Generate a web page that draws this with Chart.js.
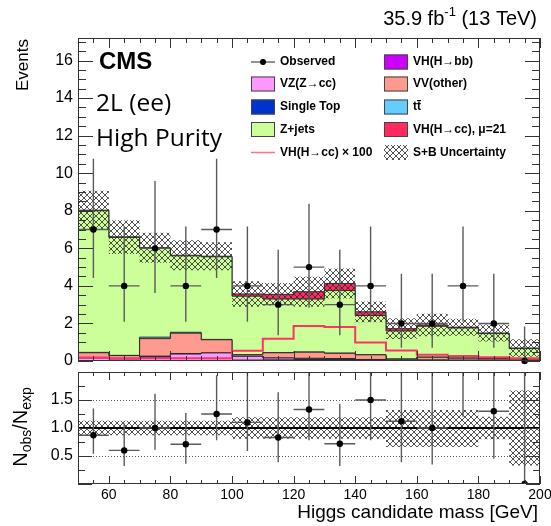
<!DOCTYPE html>
<html>
<head>
<meta charset="utf-8">
<script src="https://cdn.jsdelivr.net/npm/chart.js@4.4.0/dist/chart.umd.min.js"></script>
<style>
body { margin: 0; background: #fff; }
#wrap { position: relative; width: 551px; height: 526px; overflow: hidden; }
#main { position: absolute; left: 0; top: 0; }
#ratio { position: absolute; left: 0; top: 366px; }
</style>
</head>
<body>
<div id="wrap">
  <canvas id="main" width="551" height="366" style="width:551px;height:366px"></canvas>
  <canvas id="ratio" width="551" height="160" style="width:551px;height:160px"></canvas>
</div>
<script>
// bins of the Higgs candidate mass, GeV
var binEdges = [50,60,70,80,90,100,110,120,130,140,150,160,170,180,190,200];
var binCenters = [55,65,75,85,95,105,115,125,135,145,155,165,175,185,195];

// observed events and their error bars
var observed = [7,4,6,4,7,4,3,5,3,4,2,2,4,2,0];
var obsLow  = [4.42,2.09,3.62,2.09,4.42,2.09,1.37,2.84,1.37,2.09,0.71,0.71,2.09,0.71,0];
var obsHigh = [10.77,7.16,9.58,7.16,10.77,7.16,5.92,8.38,5.92,7.16,4.64,4.64,7.16,4.64,1.84];

// stacked backgrounds (bottom to top)
var vhbb      = [0.01,0.01,0.02,0.02,0.03,0.05,0.06,0.08,0.08,0.04,0.02,0.02,0.02,0.02,0.01];
var vzcc      = [0.15,0.10,0.18,0.35,0.40,0.20,0.10,0.06,0.05,0.04,0.02,0.03,0.02,0.02,0.01];
var singleTop = [0.00,0.00,0.06,0.03,0.00,0.00,0.00,0.00,0.00,0.00,0.00,0.00,0.00,0.00,0.00];
var vvOther   = [0.28,0.18,0.93,1.08,0.70,0.08,0.28,0.33,0.28,0.25,0.06,0.15,0.11,0.08,0.08];
var ttbar     = [0.02,0.01,0.08,0.05,0.02,0.01,0.01,0.01,0.01,0.01,0.01,0.01,0.01,0.01,0.01];
var zjets     = [7.54,6.28,4.73,4.07,4.40,3.11,2.85,2.82,3.33,2.08,1.49,1.64,1.60,1.33,0.55];
var vhcc      = [0.03,0.03,0.03,0.03,0.03,0.12,0.25,0.39,0.38,0.20,0.12,0.07,0.04,0.03,0.03];

// VH(H->cc) x 100 line
var vhccX100 = [0.18,0.15,0.15,0.15,0.15,0.55,1.18,1.87,1.81,0.98,0.56,0.33,0.26,0.20,0.15];

// S+B uncertainty band
var uncLow  = [6.99,5.70,5.23,4.83,4.83,2.89,2.95,2.89,3.33,2.07,1.17,1.32,1.35,1.04,0.22];
var uncHigh = [9.07,7.50,6.83,6.43,6.33,4.25,4.15,4.49,4.93,3.17,2.27,2.52,2.25,1.94,1.16];

// ratio panel
var ratio     = [0.87,0.60,1.00,0.71,1.25,1.10,0.83,1.33,0.72,1.50,1.12,1.00,2.25,1.30,0.00];
var ratioLow  = [0.54,0.32,0.61,0.36,0.78,0.59,0.39,0.78,0.32,0.78,0.39,0.35,1.20,0.45,0.00];
var ratioHigh = [1.35,1.08,1.61,1.27,1.94,2.10,1.64,2.30,1.43,2.80,2.70,2.40,4.00,3.10,2.70];
var ratioBandLow  = [0.87,0.87,0.87,0.87,0.87,0.81,0.81,0.81,0.81,0.81,0.66,0.66,0.66,0.80,0.33];
var ratioBandHigh = [1.13,1.13,1.13,1.13,1.13,1.19,1.19,1.19,1.19,1.19,1.32,1.32,1.32,1.20,1.67];

// tick labels
var xTicks = [60,80,100,120,140,160,180,200];
var yTicks = [0,2,4,6,8,10,12,14,16];
var ratioTicks = [0.5,1,1.5];

var FONT = '"Liberation Sans", Arial, sans-serif';

// histogram as steps: value of bin i starts at its left edge
function steps(vals) {
  var pts = vals.map(function(v, i) { return {x: binEdges[i], y: v}; });
  pts.push({x: binEdges[binEdges.length - 1], y: vals[vals.length - 1]});
  return pts;
}

function hatch(ctx) {
  var t = document.createElement('canvas');
  t.width = 6; t.height = 6;
  var g = t.getContext('2d');
  g.strokeStyle = 'rgba(40,40,40,0.9)';
  g.lineWidth = 0.9;
  g.beginPath();
  g.moveTo(0, 0); g.lineTo(6, 6);
  g.moveTo(6, 0); g.lineTo(0, 6);
  g.stroke();
  return ctx.createPattern(t, 'repeat');
}

// ROOT style frame with inner ticks
function frameTicks(chart, o) {
  var ctx = chart.ctx, a = chart.chartArea, x = chart.scales.x, y = chart.scales.y;
  ctx.save();
  ctx.strokeStyle = '#333';
  ctx.lineWidth = 1;
  ctx.beginPath();
  var v, px, len;
  for (v = x.min; v <= x.max + 1e-6; v += o.xMinor) {
    px = Math.round(x.getPixelForValue(v)) + 0.5;
    len = Math.abs(v / o.xMajor - Math.round(v / o.xMajor)) < 1e-6 ? o.xMajorLen : o.xMinorLen;
    ctx.moveTo(px, a.bottom); ctx.lineTo(px, a.bottom - len);
    ctx.moveTo(px, a.top); ctx.lineTo(px, a.top + len);
  }
  for (v = y.min; v <= y.max + 1e-6; v += o.yMinor) {
    px = Math.round(y.getPixelForValue(v)) + 0.5;
    len = Math.abs(v / o.yMajor - Math.round(v / o.yMajor)) < 1e-6 ? o.yMajorLen : o.yMinorLen;
    ctx.moveTo(a.left, px); ctx.lineTo(a.left + len, px);
    ctx.moveTo(a.right, px); ctx.lineTo(a.right - len, px);
  }
  ctx.stroke();
  ctx.strokeRect(a.left + 0.5, a.top + 0.5, a.right - a.left - 1, a.bottom - a.top - 1);
  ctx.restore();
}

function errorBars(chart, yId, vals, lo, hi) {
  var ctx = chart.ctx, a = chart.chartArea, x = chart.scales.x, y = chart.scales[yId];
  ctx.save();
  ctx.beginPath();
  ctx.rect(a.left, a.top, a.right - a.left, a.bottom - a.top);
  ctx.clip();
  ctx.strokeStyle = '#5a5a5a';
  ctx.lineWidth = 1.4;
  ctx.beginPath();
  for (var i = 0; i < vals.length; i++) {
    var cx = x.getPixelForValue(binCenters[i]);
    var cy = y.getPixelForValue(vals[i]);
    ctx.moveTo(cx, y.getPixelForValue(lo[i]));
    ctx.lineTo(cx, y.getPixelForValue(hi[i]));
    ctx.moveTo(x.getPixelForValue(binEdges[i]), cy);
    ctx.lineTo(x.getPixelForValue(binEdges[i + 1]), cy);
  }
  ctx.stroke();
  ctx.restore();
}

function legendBox(ctx, x, y, fill) {
  ctx.fillStyle = fill;
  ctx.fillRect(x, y - 7.5, 24, 15);
  ctx.strokeStyle = '#444';
  ctx.lineWidth = 1;
  ctx.strokeRect(x + 0.5, y - 7, 23, 14);
}

// no label overhang padding, fixed axis box
function fixY(s) { s.width = 78; s.paddingTop = 0; s.paddingBottom = 0; }

var mainCanvas = document.getElementById('main');
var mainHatch = hatch(mainCanvas.getContext('2d'));

var mainDeco = {
  id: 'mainDeco',
  beforeDatasetDraw: function(chart, args) {
    if (args.index === 10) errorBars(chart, 'y2', observed, obsLow, obsHigh);
  },
  afterDraw: function(chart) {
    var ctx = chart.ctx;
    frameTicks(chart, {xMinor: 5, xMajor: 20, xMinorLen: 5, xMajorLen: 10,
                       yMinor: 0.5, yMajor: 2, yMinorLen: 8, yMajorLen: 15});
    ctx.save();
    ctx.fillStyle = '#000';
    ctx.textBaseline = 'alphabetic';

    // lumi label
    var f1 = '20px ' + FONT, f2 = '13px ' + FONT;
    ctx.font = f1;
    var p1 = '35.9 fb', p3 = ' (13 TeV)';
    var w1 = ctx.measureText(p1).width, w3 = ctx.measureText(p3).width;
    ctx.font = f2;
    var w2 = ctx.measureText('-1').width;
    var x0 = 537 - w1 - w2 - w3;
    ctx.font = f1; ctx.textAlign = 'left';
    ctx.fillText(p1, x0, 25);
    ctx.font = f2;
    ctx.fillText('-1', x0 + w1, 16);
    ctx.font = f1;
    ctx.fillText(p3, x0 + w1 + w2, 25);

    // CMS and category text
    ctx.font = 'bold 24px ' + FONT;
    ctx.fillText('CMS', 99, 69);
    ctx.font = '24.5px "Open Sans", sans-serif';
    ctx.fillText('2L (ee)', 96, 111);
    ctx.fillText('High Purity', 96, 146);

    // Events title
    ctx.save();
    ctx.translate(28, 39);
    ctx.rotate(-Math.PI / 2);
    ctx.font = '17px ' + FONT;
    ctx.textAlign = 'right';
    ctx.fillText('Events', 0, 0);
    ctx.restore();

    // legend
    var rows = [62, 84, 107, 129.5, 152.5];
    var c1 = 251, c2 = 384, t1 = 280, t2 = 413;
    ctx.font = 'bold 12px ' + FONT;
    ctx.textBaseline = 'middle';
    ctx.textAlign = 'left';

    ctx.strokeStyle = '#222'; ctx.lineWidth = 1.2;
    ctx.beginPath();
    ctx.moveTo(c1, rows[0]); ctx.lineTo(c1 + 24, rows[0]);
    ctx.moveTo(c1 + 12, rows[0] - 3); ctx.lineTo(c1 + 12, rows[0] + 3);
    ctx.stroke();
    ctx.fillStyle = '#000';
    ctx.beginPath(); ctx.arc(c1 + 12, rows[0], 3, 0, 2 * Math.PI); ctx.fill();
    ctx.fillText('Observed', t1, rows[0]);

    legendBox(ctx, c1, rows[1], '#ff99ff');
    legendBox(ctx, c1, rows[2], '#0033cc');
    legendBox(ctx, c1, rows[3], '#ccff99');
    ctx.strokeStyle = '#ff6f90'; ctx.lineWidth = 1.5;
    ctx.beginPath(); ctx.moveTo(c1, rows[4]); ctx.lineTo(c1 + 24, rows[4]); ctx.stroke();

    legendBox(ctx, c2, rows[0], '#cc00ff');
    legendBox(ctx, c2, rows[1], '#ff9a8e');
    legendBox(ctx, c2, rows[2], '#66ccff');
    legendBox(ctx, c2, rows[3], '#ff2a5f');
    ctx.fillStyle = mainHatch;
    ctx.fillRect(c2, rows[4] - 7.5, 24, 15);

    ctx.fillStyle = '#000';
    ctx.fillText('VZ(Z\u2192cc)', t1, rows[1]);
    ctx.fillText('Single Top', t1, rows[2]);
    ctx.fillText('Z+jets', t1, rows[3]);
    ctx.fillText('VH(H\u2192cc) \u00d7 100', t1, rows[4]);
    ctx.fillText('VH(H\u2192bb)', t2, rows[0]);
    ctx.fillText('VV(other)', t2, rows[1]);
    ctx.fillText('tt', t2, rows[2]);
    var tw = ctx.measureText('t').width;
    ctx.fillRect(t2 + tw, rows[2] - 7, tw, 1.2);
    ctx.fillText('VH(H\u2192cc), \u03bc=21', t2, rows[3]);
    ctx.fillText('S+B Uncertainty', t2, rows[4]);
    ctx.restore();
  }
};

function stackSet(label, vals, color, first) {
  return {
    label: label, data: steps(vals), yAxisID: 'y', stepped: 'before',
    backgroundColor: color, borderColor: '#2a2a2a', borderWidth: 1,
    fill: first ? 'origin' : '-1', pointRadius: 0, order: 5
  };
}

new Chart(mainCanvas, {
  type: 'line',
  data: {
    datasets: [
      stackSet('VH(H\u2192bb)', vhbb, '#cc00ff', true),
      stackSet('VZ(Z\u2192cc)', vzcc, '#ff99ff', false),
      stackSet('Single Top', singleTop, '#0033cc', false),
      stackSet('VV(other)', vvOther, '#ff9a8e', false),
      stackSet('tt', ttbar, '#66ccff', false),
      stackSet('Z+jets', zjets, '#ccff99', false),
      stackSet('VH(H\u2192cc), \u03bc=21', vhcc, '#ff2a5f', false),
      { label: 'VH(H\u2192cc) \u00d7 100', data: steps(vhccX100), yAxisID: 'y2', stepped: 'before',
        borderColor: '#ff3366', borderWidth: 2, fill: false, pointRadius: 0, order: 3 },
      { label: 'unc low', data: steps(uncLow), yAxisID: 'y2', stepped: 'before',
        borderWidth: 0, borderColor: 'rgba(0,0,0,0)', fill: false, pointRadius: 0, order: 2 },
      { label: 'S+B Uncertainty', data: steps(uncHigh), yAxisID: 'y2', stepped: 'before',
        borderWidth: 0, borderColor: 'rgba(0,0,0,0)', backgroundColor: mainHatch,
        fill: '-1', pointRadius: 0, order: 2 },
      { label: 'Observed', type: 'scatter', yAxisID: 'y2',
        data: binCenters.map(function(c, i) { return {x: c, y: observed[i]}; }),
        pointRadius: 3.2, pointBackgroundColor: '#000', pointBorderWidth: 0,
        showLine: false, clip: false, order: 0 }
    ]
  },
  options: {
    responsive: false,
    animation: false,
    layout: { padding: { top: 38, right: 11, bottom: 5, left: 0 } },
    plugins: { legend: { display: false }, tooltip: { enabled: false } },
    scales: {
      x: { type: 'linear', min: 50, max: 200, display: false },
      y: {
        stacked: true, min: 0, max: 17.2,
        grid: { display: false, drawTicks: false }, border: { display: false },
        afterBuildTicks: function(s) { s.ticks = yTicks.map(function(v) { return {value: v}; }); },
        afterFit: fixY,
        ticks: { padding: 5, color: '#000', font: { size: 16, family: FONT } }
      },
      y2: { min: 0, max: 17.2, display: false }
    }
  },
  plugins: [mainDeco]
});

// ratio panel
var ratioCanvas = document.getElementById('ratio');
var ratioHatch = hatch(ratioCanvas.getContext('2d'));

var ratioDeco = {
  id: 'ratioDeco',
  beforeDatasetsDraw: function(chart) {
    var ctx = chart.ctx, a = chart.chartArea, y = chart.scales.y;
    ctx.save();
    ctx.strokeStyle = '#555';
    ctx.lineWidth = 1;
    ctx.setLineDash([1, 2]);
    ctx.beginPath();
    [0.5, 1.5].forEach(function(v) {
      var py = Math.round(y.getPixelForValue(v)) + 0.5;
      ctx.moveTo(a.left, py); ctx.lineTo(a.right, py);
    });
    ctx.stroke();
    ctx.restore();
  },
  beforeDatasetDraw: function(chart, args) {
    if (args.index === 3) errorBars(chart, 'y', ratio, ratioLow, ratioHigh);
  },
  afterDraw: function(chart) {
    var ctx = chart.ctx;
    frameTicks(chart, {xMinor: 5, xMajor: 20, xMinorLen: 4, xMajorLen: 8,
                       yMinor: 0.25, yMajor: 0.5, yMinorLen: 7, yMajorLen: 14});
    ctx.save();
    ctx.fillStyle = '#000';
    ctx.font = '19px ' + FONT;
    ctx.textAlign = 'right';
    ctx.textBaseline = 'alphabetic';
    ctx.fillText('Higgs candidate mass [GeV]', 538, 152);

    // N_obs / N_exp
    var big = '20px ' + FONT, small = '14px ' + FONT;
    var parts = [['N', big, 0], ['obs', small, 4], ['/N', big, 0], ['exp', small, 4]];
    var total = 0;
    parts.forEach(function(p) { ctx.font = p[1]; p.push(ctx.measureText(p[0]).width); total += p[3]; });
    ctx.translate(27, 61);
    ctx.rotate(-Math.PI / 2);
    ctx.textAlign = 'left';
    var px = -total / 2;
    parts.forEach(function(p) {
      ctx.font = p[1];
      ctx.fillText(p[0], px, p[2]);
      px += p[3];
    });
    ctx.restore();
  }
};

new Chart(ratioCanvas, {
  type: 'line',
  data: {
    datasets: [
      { label: 'band low', data: steps(ratioBandLow), stepped: 'before',
        borderWidth: 0, borderColor: 'rgba(0,0,0,0)', fill: false, pointRadius: 0, order: 3 },
      { label: 'band high', data: steps(ratioBandHigh), stepped: 'before',
        borderWidth: 0, borderColor: 'rgba(0,0,0,0)', backgroundColor: ratioHatch,
        fill: '-1', pointRadius: 0, order: 3 },
      { label: 'unity', data: [{x: 50, y: 1}, {x: 200, y: 1}],
        borderColor: '#000', borderWidth: 2, fill: false, pointRadius: 0, order: 2 },
      { label: 'ratio', type: 'scatter',
        data: binCenters.map(function(c, i) { return {x: c, y: ratio[i]}; }),
        pointRadius: 3.2, pointBackgroundColor: '#000', pointBorderWidth: 0,
        showLine: false, order: 0 }
    ]
  },
  options: {
    responsive: false,
    animation: false,
    layout: { padding: { top: 6, right: 11, bottom: 0, left: 0 } },
    plugins: { legend: { display: false }, tooltip: { enabled: false } },
    scales: {
      x: {
        type: 'linear', min: 50, max: 200,
        grid: { display: false, drawTicks: false }, border: { display: false },
        afterBuildTicks: function(s) { s.ticks = xTicks.map(function(v) { return {value: v}; }); },
        afterFit: function(s) { s.height = 42; s.paddingLeft = 0; s.paddingRight = 0; },
        ticks: { padding: 3, color: '#000', maxRotation: 0, font: { size: 14, family: FONT } }
      },
      y: {
        min: 0, max: 2,
        grid: { display: false, drawTicks: false }, border: { display: false },
        afterBuildTicks: function(s) { s.ticks = ratioTicks.map(function(v) { return {value: v}; }); },
        afterFit: fixY,
        ticks: { padding: 5, color: '#000', font: { size: 16, family: FONT } }
      }
    }
  },
  plugins: [ratioDeco]
});
</script>
</body>
</html>
